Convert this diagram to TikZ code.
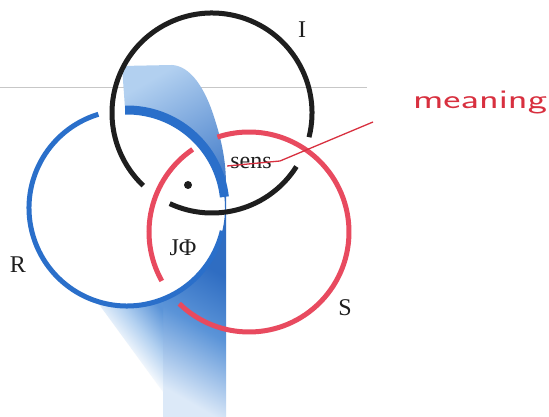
\documentclass[tikz,border=0pt]{standalone}
\usepackage{fontspec}
\usepackage{graphicx}
\setmainfont{Liberation Serif}
\definecolor{ringK}{HTML}{1E1E1E}
\definecolor{ringB}{HTML}{2A6FCA}
\definecolor{ringR}{HTML}{E84A5F}
\definecolor{shDark}{HTML}{2F6DC2}
\definecolor{shMid}{HTML}{5B94D8}
\definecolor{shLight}{HTML}{B2D0F0}
\definecolor{shPale}{HTML}{DCE9F8}
\definecolor{pen}{HTML}{D8303F}
\pgfdeclarehorizontalshading{leftfade}{100bp}{color(0bp)=(white); color(45bp)=(white); color(62bp)=(shLight); color(80bp)=(shMid); color(100bp)=(shMid)}
\pgfdeclareverticalshading{colfade}{100bp}{color(0bp)=(shPale); color(25bp)=(shPale); color(50bp)=(shMid); color(70bp)=(shDark); color(100bp)=(shDark)}
\begin{document}
\begin{tikzpicture}[x=1pt,y=1pt,
  ring/.style={line width=5pt},
  lab/.style={inner sep=0pt, font=\fontsize{24}{28}\selectfont, text=ringK},
  hand/.style={inner sep=0pt, text=pen, font=\sffamily\fontsize{27}{30}\selectfont}]
\useasboundingbox (0,0) rectangle (549,417);
\fill[white] (0,0) rectangle (549,417);
% scan line
\draw[black!22, line width=0.8pt] (0,330) -- (367,330);
% centres
\coordinate (cI) at (212,304);
\coordinate (cR) at (127,209);
\coordinate (cS) at (249,185);
% shading: upper crescent
\shade[top color=shLight, bottom color=shDark, shading angle=30]
  (122,351) -- (172,352) .. controls (190,351) and (205,330) .. (215,297)
  .. controls (222,275) and (226,255) .. (226,232)
  -- (226,186) -- (222.3,186.1) arc[start angle=-13.5, end angle=91.1, radius=98] -- cycle;
% shading: lower column
\shade[shading=colfade, shading angle=-30]
  (226,186) -- (226,0) -- (163,0) -- (163,117.9)
  arc[start angle=-68.4, end angle=-13.5, radius=98] -- cycle;
% shading: left fade
\shade[shading=leftfade, shading angle=40]
  (96.7,115.8) arc[start angle=-108, end angle=-68.4, radius=98] -- (163,25) -- cycle;
% blue ring R
\draw[ring, ringB] (cR) ++(107:98) arc[start angle=107, end angle=346.5, radius=98];
\draw[ringB, line width=9pt] (cR) ++(6.5:98) arc[start angle=6.5, end angle=91.1, radius=98];
% black ring I
\draw[ring, ringK] (cI) ++(-14:100) arc[start angle=-14, end angle=226.6, radius=100];
\draw[ring, ringK] (cI) ++(-115:100) arc[start angle=-115, end angle=-32.4, radius=100];
% red ring S
\draw[ring, ringR] (cS) ++(124.3:100) arc[start angle=124.3, end angle=209.3, radius=100];
\draw[ring, ringR] (cS) ++(225.8:100) arc[start angle=225.8, end angle=468.4, radius=100];
% dot
\fill[ringK] (188,232) circle (4);
% labels
\node[lab] (I) at (302,387) {I};
\node[lab] (R) at (18,152) {R};
\node[lab] (S) at (345,109) {S};
\node[lab] (J) at (183,169) {JΦ};
\node[lab] (sens) at (251,254) {sens};
\node[hand] (meaning) at (480,314) {\resizebox{134pt}{\height}{meaning}};
% handwritten pointer
\coordinate (p2) at (280,256);
\coordinate (p3) at (373,295);
\draw[pen, line width=1.3pt, line join=round] ([xshift=-3pt,yshift=-3pt]sens.west) -- (p2) -- (p3);
\end{tikzpicture}
\end{document}
